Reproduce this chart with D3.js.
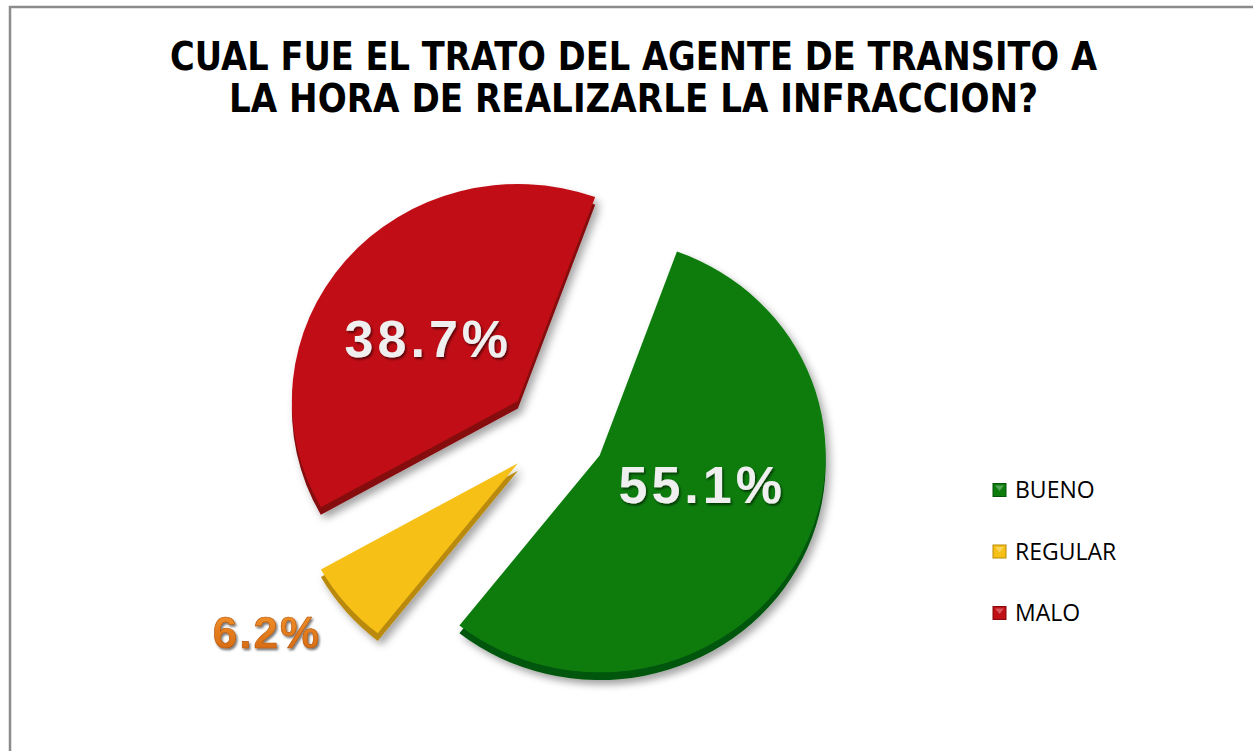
<!DOCTYPE html>
<html>
<head>
<meta charset="utf-8">
<script src="https://cdn.jsdelivr.net/npm/d3@7"></script>
<style>
  body { margin: 0; background: #fff; }
  svg { display: block; }
</style>
</head>
<body>
<svg width="1255" height="751"></svg>
<script>
var categories = ["BUENO", "REGULAR", "MALO"];
var values = [55.1, 6.2, 38.7];
var labels = ["55.1%", "6.2%", "38.7%"];
var titleLines = ["CUAL FUE EL TRATO DEL AGENTE DE TRANSITO A", "LA HORA DE REALIZARLE LA INFRACCION?"];

var colors = ["#0c7c0c", "#f6c015", "#c10f16"];
var sideColors = ["#05560a", "#b98a0a", "#86080c"];

var svg = d3.select("svg");
var width = +svg.attr("width");

var defs = svg.append("defs");
var shadow = defs.append("filter").attr("id", "shadow")
    .attr("x", "-20%").attr("y", "-20%").attr("width", "140%").attr("height", "140%");
shadow.append("feDropShadow").attr("dx", 4).attr("dy", 5).attr("stdDeviation", 4)
    .attr("flood-color", "#000").attr("flood-opacity", 0.35);
var tshadow = defs.append("filter").attr("id", "tshadow");
tshadow.append("feDropShadow").attr("dx", 1.5).attr("dy", 2).attr("stdDeviation", 1.2)
    .attr("flood-color", "#000").attr("flood-opacity", 0.55);
var og = defs.append("linearGradient").attr("id", "orangeText")
    .attr("x1", 0).attr("y1", 0).attr("x2", 0).attr("y2", 1);
og.append("stop").attr("offset", "0%").attr("stop-color", "#f4962e");
og.append("stop").attr("offset", "100%").attr("stop-color", "#d2650f");

// frame
svg.append("path")
    .attr("d", "M10,751 L10,7 L1253,7")
    .attr("fill", "none").attr("stroke", "#8c8c8c").attr("stroke-width", 2.5);

// title
svg.selectAll(".title")
    .data(titleLines)
    .enter().append("text")
    .attr("class", "title")
    .attr("x", width / 2 + 6)
    .attr("y", function (d, i) { return 70 + i * 42; })
    .attr("text-anchor", "middle")
    .attr("textLength", function (d, i) { return i == 0 ? 927 : 809; })
    .attr("lengthAdjust", "spacingAndGlyphs")
    .style("font-family", "'DejaVu Sans', sans-serif")
    .style("font-weight", "bold")
    .style("font-size", "39px")
    .attr("fill", "#000")
    .text(function (d) { return d; });

// pie
var cx = 556, cy = 432, r = 226, sy = 0.96, explode = 50, depth = 8;
var pie = d3.pie().sort(null)
    .startAngle(20 * Math.PI / 180)
    .endAngle(380 * Math.PI / 180);
var arcs = pie(values);
var arc = d3.arc().innerRadius(0).outerRadius(r);

function mid(d) { return (d.startAngle + d.endAngle) / 2; }
function offset(d, k) {
    return [Math.sin(mid(d)) * k, -Math.cos(mid(d)) * k];
}

var g = svg.append("g").attr("transform", "translate(" + cx + "," + cy + ")");
var pg = g.append("g").attr("transform", "scale(1," + sy + ")");

var slices = pg.selectAll(".slice")
    .data(arcs)
    .enter().append("g")
    .attr("class", "slice")
    .attr("filter", "url(#shadow)")
    .attr("transform", function (d) {
        var o = offset(d, explode);
        return "translate(" + o[0] + "," + o[1] + ")";
    });

// side (thickness)
slices.append("path")
    .attr("d", arc)
    .attr("transform", "translate(0," + depth + ")")
    .attr("fill", function (d, i) { return sideColors[i]; });

slices.append("path")
    .attr("d", arc)
    .attr("fill", function (d, i) { return colors[i]; });

// labels
g.selectAll(".lbl")
    .data(arcs)
    .enter().append("text")
    .attr("class", "lbl")
    .attr("x", function (d) {
        var k = (d.value < 10) ? r * 1.46 : r * 0.52;
        return offset(d, explode)[0] + Math.sin(mid(d)) * k;
    })
    .attr("y", function (d) {
        var k = (d.value < 10) ? r * 1.15 : r * 0.36;
        return offset(d, explode)[1] * sy - Math.cos(mid(d)) * k;
    })
    .attr("dy", function (d) { return d.value < 10 ? "0.36em" : "0.16em"; })
    .attr("text-anchor", "middle")
    .style("font-family", "'Liberation Sans', Arial, sans-serif")
    .style("font-weight", "bold")
    .style("font-size", function (d) { return d.value < 10 ? "44px" : "52px"; })
    .style("letter-spacing", function (d) { return d.value < 10 ? "2px" : "4px"; })
    .attr("fill", function (d) { return d.value < 10 ? "url(#orangeText)" : "#efefef"; })
    .attr("stroke", function (d) { return d.value < 10 ? "#b4560c" : "none"; })
    .attr("stroke-width", 0.6)
    .attr("filter", "url(#tshadow)")
    .text(function (d, i) { return labels[i]; });

// legend
var legend = svg.selectAll(".leg")
    .data(categories)
    .enter().append("g")
    .attr("class", "leg")
    .attr("transform", function (d, i) { return "translate(993," + (490 + i * 61.5) + ")"; });
legend.append("rect")
    .attr("x", 0).attr("y", -6.5)
    .attr("width", 13).attr("height", 13)
    .attr("fill", function (d, i) { return colors[i]; })
    .attr("stroke", function (d, i) { return sideColors[i]; })
    .attr("stroke-width", 1);
legend.append("path")
    .attr("d", "M2,-4.5 L11,-4.5 L6.5,1 Z")
    .attr("fill", "#fff").attr("opacity", 0.3);
legend.append("text")
    .attr("x", 22).attr("y", 0).attr("dy", "0.36em")
    .style("font-family", "'Open Sans', sans-serif")
    .style("font-size", "23px")
    .attr("fill", "#000")
    .text(function (d) { return d; });
</script>
</body>
</html>
